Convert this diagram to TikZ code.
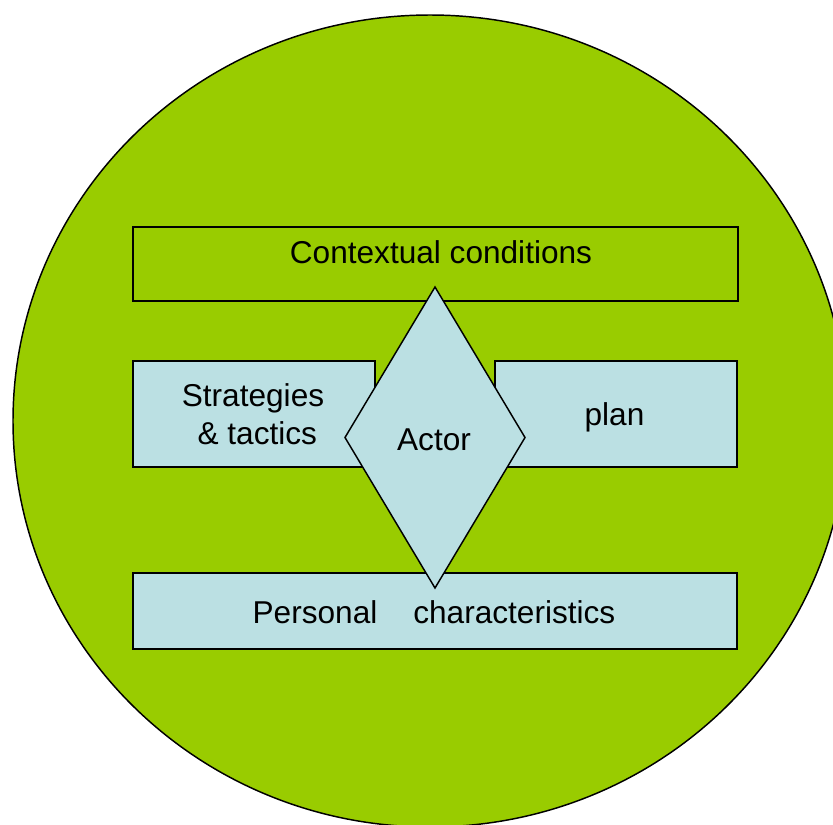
\documentclass[tikz,border=0pt]{standalone}
\usepackage{fontspec}
\setmainfont{Liberation Sans}
\usetikzlibrary{shapes.geometric}
\definecolor{grn}{HTML}{99CC00}
\definecolor{lblue}{HTML}{BBE0E3}
\begin{document}
\begin{tikzpicture}[x=0.75pt,y=-0.75pt,
  box/.style={draw=black,line width=1.1pt,rectangle,inner sep=0pt,outer sep=0pt},
  lbl/.style={font=\fontsize{23.7}{28.5}\selectfont,inner sep=0pt,outer sep=0pt,align=center,anchor=base}]
\useasboundingbox (0,0) rectangle (833,825);
\fill[white] (0,0) rectangle (833,825);
\clip (0,0) rectangle (833,825);
\draw[fill=grn,line width=1.1pt] (430,421) ellipse [x radius=417, y radius=406];
\node[box,fill=grn,minimum width=453.75pt,minimum height=55.5pt] (ctx) at (435.5,264) {};
\node[box,fill=lblue,minimum width=181.5pt,minimum height=79.5pt] (strat) at (254,414) {};
\node[box,fill=lblue,minimum width=181.5pt,minimum height=79.5pt] (plan) at (616,414) {};
\node[box,fill=lblue,minimum width=453pt,minimum height=57pt] (pers) at (435,611) {};
\node[box,diamond,fill=lblue,minimum width=135pt,minimum height=225.75pt] (actor) at (435,437.5) {};
\node[lbl] (tctx) at (441,263) {Contextual conditions};
\node[lbl] (tstrat) at (253,444) {Strategies\\\hspace*{6.5pt}\& tactics};
\node[lbl] (tplan) at (614.5,425) {plan};
\node[lbl] (tpers) at (434,623) {Personal\hspace{27pt}characteristics};
\node[lbl] (tactor) at (434,450) {Actor};
\end{tikzpicture}
\end{document}
